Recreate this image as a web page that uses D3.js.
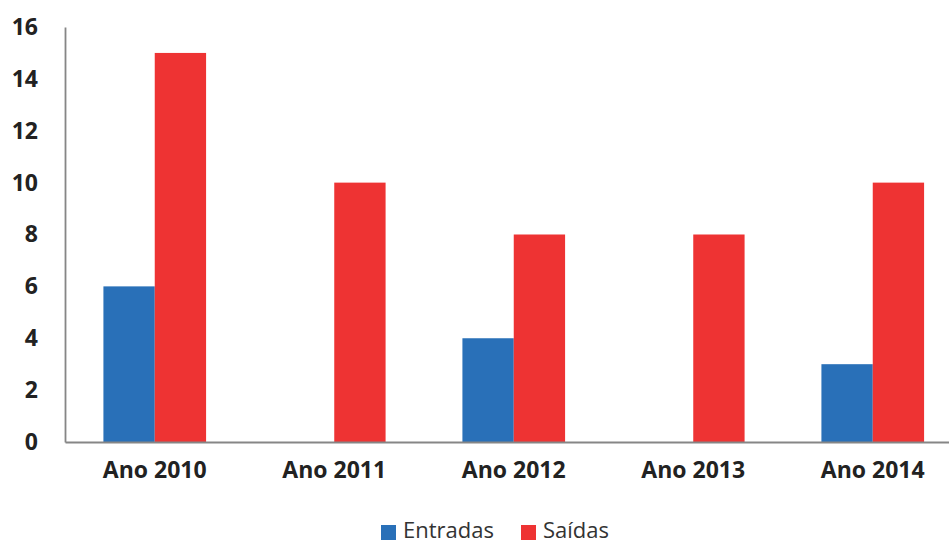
<!DOCTYPE html>
<html>
<head>
<meta charset="utf-8">
<script src="https://cdn.jsdelivr.net/npm/d3@7"></script>
<style>
  body { margin: 0; background: #fff; }
  svg { display: block; font-family: "Open Sans", sans-serif; }
</style>
</head>
<body>
<svg id="chart" width="949" height="543"></svg>
<script>
// chart data
const categories = ["Ano 2010", "Ano 2011", "Ano 2012", "Ano 2013", "Ano 2014"];
const seriesNames = ["Entradas", "Saídas"];
const entradas = [6, 0, 4, 0, 3];
const saidas = [15, 10, 8, 8, 10];
const yTicks = [0, 2, 4, 6, 8, 10, 12, 14, 16];
const colors = ["#2970b8", "#ee3333"];

const rows = categories.map((c, i) => ({ cat: c, values: [entradas[i], saidas[i]] }));

const svg = d3.select("#chart");
const plot = { left: 65, right: 962.5, top: 27, bottom: 442 };

const x0 = d3.scaleBand()
    .domain(categories)
    .range([plot.left, plot.right])
    .paddingInner(0.428)
    .paddingOuter(0.214);

const x1 = d3.scaleBand()
    .domain(seriesNames)
    .range([0, x0.bandwidth()]);

const y = d3.scaleLinear()
    .domain([0, 16])
    .range([plot.bottom, plot.top]);

// bars
svg.append("g")
    .selectAll("g")
    .data(rows)
    .enter().append("g")
    .attr("transform", d => `translate(${x0(d.cat)},0)`)
    .selectAll("rect")
    .data(d => d.values.map((v, i) => ({ name: seriesNames[i], value: v, i })).filter(d => d.value > 0))
    .enter().append("rect")
    .attr("x", d => x1(d.name))
    .attr("y", d => y(d.value))
    .attr("width", x1.bandwidth())
    .attr("height", d => y(0) - y(d.value))
    .attr("fill", d => colors[d.i]);

// y axis
const yAxis = svg.append("g")
    .attr("transform", `translate(${plot.left},0)`)
    .call(d3.axisLeft(y).tickValues(yTicks).tickSize(0).tickPadding(27).tickSizeOuter(0));
yAxis.select(".domain").attr("stroke", "#868686").attr("stroke-width", 1.8);
yAxis.selectAll("text")
    .style("font-family", "'Open Sans', sans-serif")
    .style("font-size", "23px")
    .style("font-weight", "bold")
    .attr("fill", "#222");

// x axis
const xAxis = svg.append("g")
    .attr("transform", `translate(0,${plot.bottom})`)
    .call(d3.axisBottom(x0).tickSize(0).tickPadding(20).tickSizeOuter(0));
xAxis.select(".domain").attr("stroke", "#868686").attr("stroke-width", 1.8);
xAxis.selectAll("text")
    .style("font-family", "'Open Sans', sans-serif")
    .style("font-size", "23px")
    .style("font-weight", "bold")
    .attr("fill", "#222");

// legend
const legendX = [381, 521];
const legend = svg.append("g");
legend.selectAll("rect")
    .data(seriesNames)
    .enter().append("rect")
    .attr("x", (d, i) => legendX[i])
    .attr("y", 525)
    .attr("width", 15)
    .attr("height", 15)
    .attr("fill", (d, i) => colors[i]);
legend.selectAll("text")
    .data(seriesNames)
    .enter().append("text")
    .attr("x", (d, i) => legendX[i] + 22)
    .attr("y", 538)
    .text(d => d)
    .style("font-size", "22px")
    .attr("fill", "#333");
</script>
</body>
</html>
